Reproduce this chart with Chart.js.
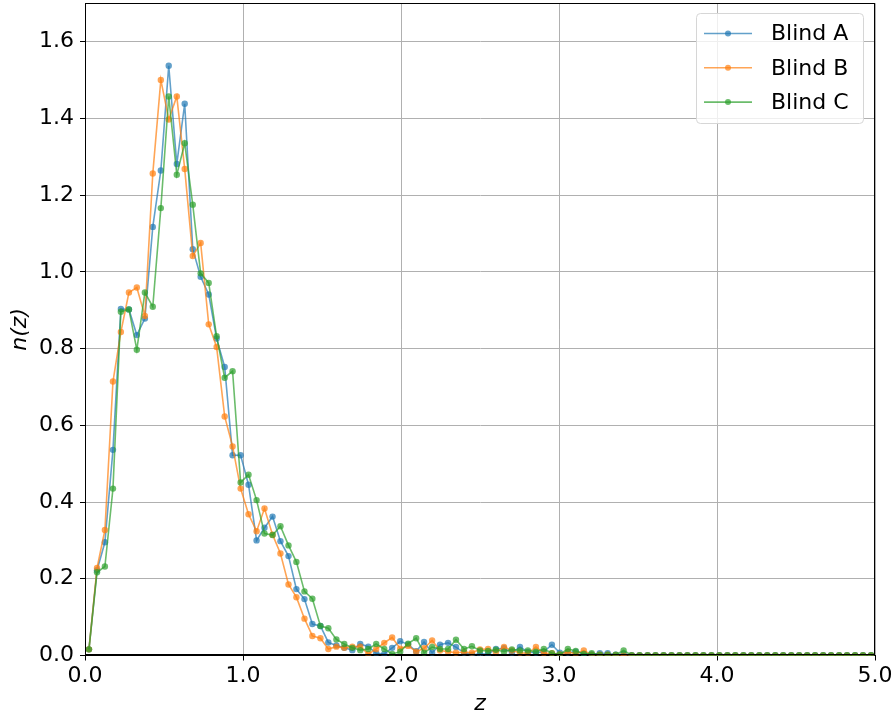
<!DOCTYPE html>
<html>
<head>
<meta charset="utf-8">
<script src="https://cdn.jsdelivr.net/npm/chart.js@4/dist/chart.umd.min.js"></script>
<style>
  html, body { margin: 0; padding: 0; background: #ffffff; }
  #wrap { width: 896px; height: 717px; }
</style>
</head>
<body>
<div id="wrap"><canvas id="nz" width="896" height="717"></canvas></div>
<script>
// Redshift bin centres (99 bins between 0 and 5)
const zCenters = [
  0.025, 0.076, 0.126, 0.177, 0.227, 0.278, 0.328, 0.379, 0.429, 0.480,
  0.530, 0.581, 0.631, 0.682, 0.732, 0.783, 0.833, 0.884, 0.934, 0.985,
  1.035, 1.086, 1.136, 1.187, 1.237, 1.288, 1.338, 1.389, 1.439, 1.490,
  1.540, 1.591, 1.641, 1.692, 1.742, 1.793, 1.843, 1.894, 1.944, 1.995,
  2.045, 2.096, 2.146, 2.197, 2.247, 2.298, 2.348, 2.399, 2.449, 2.500,
  2.551, 2.601, 2.652, 2.702, 2.753, 2.803, 2.854, 2.904, 2.955, 3.005,
  3.056, 3.106, 3.157, 3.207, 3.258, 3.308, 3.359, 3.409, 3.460, 3.510,
  3.561, 3.611, 3.662, 3.712, 3.763, 3.813, 3.864, 3.914, 3.965, 4.015,
  4.066, 4.116, 4.167, 4.217, 4.268, 4.318, 4.369, 4.419, 4.470, 4.520,
  4.571, 4.621, 4.672, 4.722, 4.773, 4.823, 4.874, 4.924, 4.975
];

const blindA = [
  0.016, 0.222, 0.295, 0.536, 0.903, 0.902, 0.835, 0.878, 1.117, 1.264,
  1.537, 1.281, 1.438, 1.059, 0.987, 0.941, 0.826, 0.752, 0.522, 0.522,
  0.445, 0.300, 0.333, 0.362, 0.298, 0.259, 0.173, 0.147, 0.082, 0.077,
  0.034, 0.026, 0.020, 0.014, 0.030, 0.023, 0.006, 0.004, 0.020, 0.037,
  0.029, 0.011, 0.035, 0.007, 0.028, 0.033, 0.022, 0.007, 0.002, 0.004,
  0.004, 0.017, 0.019, 0.007, 0.022, 0.009, 0.007, 0.010, 0.028, 0.007,
  0.007, 0.010, 0.005, 0.003, 0.006, 0.006, 0.002, 0.004, 0.001, 0.001,
  0.001, 0.001, 0.001, 0.001, 0.001, 0.001, 0.001, 0.001, 0.001, 0.001,
  0.001, 0.001, 0.001, 0.001, 0.001, 0.001, 0.001, 0.001, 0.001, 0.001,
  0.001, 0.001, 0.001, 0.001, 0.001, 0.001, 0.001, 0.001, 0.001
];

const blindB = [
  0.016, 0.228, 0.327, 0.714, 0.843, 0.946, 0.959, 0.885, 1.256, 1.500,
  1.397, 1.457, 1.268, 1.041, 1.075, 0.863, 0.804, 0.623, 0.545, 0.435,
  0.368, 0.324, 0.383, 0.315, 0.266, 0.185, 0.152, 0.096, 0.051, 0.045,
  0.017, 0.023, 0.020, 0.023, 0.023, 0.004, 0.017, 0.033, 0.047, 0.018,
  0.025, 0.010, 0.019, 0.039, 0.013, 0.010, 0.007, 0.009, 0.007, 0.016,
  0.017, 0.009, 0.022, 0.013, 0.007, 0.006, 0.022, 0.006, 0.006, 0.003,
  0.009, 0.005, 0.013, 0.002, 0.002, 0.002, 0.001, 0.000, 0.000, 0.000,
  0.000, 0.000, 0.000, 0.000, 0.000, 0.000, 0.000, 0.000, 0.000, 0.000,
  0.000, 0.000, 0.000, 0.000, 0.000, 0.000, 0.000, 0.000, 0.000, 0.000,
  0.000, 0.000, 0.000, 0.000, 0.000, 0.000, 0.000, 0.000, 0.000
];

const blindC = [
  0.016, 0.217, 0.232, 0.435, 0.896, 0.902, 0.797, 0.946, 0.909, 1.166,
  1.457, 1.253, 1.335, 1.175, 0.996, 0.971, 0.832, 0.724, 0.741, 0.451,
  0.471, 0.405, 0.318, 0.314, 0.337, 0.287, 0.244, 0.167, 0.148, 0.077,
  0.071, 0.042, 0.030, 0.020, 0.014, 0.017, 0.030, 0.017, 0.004, 0.010,
  0.031, 0.045, 0.007, 0.022, 0.017, 0.017, 0.041, 0.017, 0.024, 0.013,
  0.012, 0.015, 0.010, 0.016, 0.013, 0.013, 0.010, 0.017, 0.006, 0.003,
  0.017, 0.012, 0.004, 0.006, 0.002, 0.002, 0.002, 0.013, 0.001, 0.001,
  0.001, 0.001, 0.001, 0.001, 0.001, 0.001, 0.001, 0.001, 0.001, 0.001,
  0.001, 0.001, 0.001, 0.001, 0.001, 0.001, 0.001, 0.001, 0.001, 0.001,
  0.001, 0.001, 0.001, 0.001, 0.001, 0.001, 0.001, 0.001, 0.001
];

const seriesLabels = ['Blind A', 'Blind B', 'Blind C'];
const seriesColors = ['rgba(31,119,180,0.7)', 'rgba(255,127,14,0.7)', 'rgba(44,160,44,0.7)'];

const FONT = "'DejaVu Sans', 'Liberation Sans', sans-serif";

function toPoints(values) {
  return zCenters.map((z, i) => ({ x: z, y: values[i] }));
}

const seriesValues = [blindA, blindB, blindC];
const datasets = seriesValues.map((vals, i) => ({
  label: seriesLabels[i],
  data: toPoints(vals),
  borderColor: seriesColors[i],
  backgroundColor: seriesColors[i],
  borderWidth: 1.6,
  pointRadius: 3.2,
  pointBorderWidth: 0,
  pointHoverRadius: 3.2,
  tension: 0,
  // later series are painted over earlier ones
  order: seriesValues.length - i
}));

// Box around the plotting area, drawn over the curves
const frame = {
  id: 'frame',
  afterDatasetsDraw(chart) {
    const { ctx, chartArea: a } = chart;
    ctx.save();
    ctx.strokeStyle = '#000000';
    ctx.lineWidth = 1;
    ctx.strokeRect(Math.round(a.left) + 0.5, Math.round(a.top) + 0.5,
                   Math.round(a.right - a.left) - 1, Math.round(a.bottom - a.top) - 1);
    ctx.restore();
  }
};

// Legend panel in the upper right corner of the plot
const insetLegend = {
  id: 'insetLegend',
  afterDraw(chart) {
    const { ctx } = chart;
    const bx = 696.5, by = 13.5, bw = 167, bh = 110, r = 4;
    ctx.save();
    ctx.beginPath();
    ctx.roundRect(bx, by, bw, bh, r);
    ctx.fillStyle = 'rgba(255,255,255,0.8)';
    ctx.fill();
    ctx.strokeStyle = '#d6d6d6';
    ctx.lineWidth = 1;
    ctx.stroke();
    chart.data.datasets.forEach((ds, i) => {
      const y = 33.5 + i * 34.3;
      ctx.strokeStyle = ds.borderColor;
      ctx.lineWidth = 1.6;
      ctx.beginPath();
      ctx.moveTo(704, y);
      ctx.lineTo(752, y);
      ctx.stroke();
      ctx.fillStyle = ds.backgroundColor;
      ctx.beginPath();
      ctx.arc(728, y, 3, 0, Math.PI * 2);
      ctx.fill();
      ctx.fillStyle = '#000000';
      ctx.font = '22px ' + FONT;
      ctx.textBaseline = 'middle';
      ctx.textAlign = 'left';
      ctx.fillText(ds.label, 771, y + 1);
    });
    ctx.restore();
  }
};

new Chart(document.getElementById('nz'), {
  type: 'line',
  data: { datasets },
  plugins: [frame, insetLegend],
  options: {
    responsive: false,
    animation: false,
    events: [],
    layout: { padding: { top: 2, right: 21, left: 0, bottom: 0 } },
    plugins: {
      legend: { display: false },
      tooltip: { enabled: false }
    },
    scales: {
      x: {
        type: 'linear',
        min: 0,
        max: 5,
        afterFit(scale) { scale.height = 61.5; },
        ticks: {
          stepSize: 1,
          color: '#000000',
          font: { family: FONT, size: 22 },
          padding: 3,
          maxRotation: 0,
          callback: (v) => Number(v).toFixed(1)
        },
        grid: { color: '#b0b0b0', lineWidth: 1, tickColor: '#000000', tickLength: 5 },
        border: { color: '#000000', width: 1 },
        title: {
          display: true,
          text: 'z',
          color: '#000000',
          font: { family: FONT, size: 22, style: 'italic' },
          padding: { top: 0, bottom: 0 }
        }
      },
      y: {
        min: 0,
        max: 1.7,
        afterFit(scale) {
          scale.width = 85;
          scale.paddingTop = 0;
          scale.paddingBottom = 0;
        },
        ticks: {
          stepSize: 0.2,
          includeBounds: false,
          color: '#000000',
          font: { family: FONT, size: 22 },
          padding: 6,
          callback: (v) => Number(v).toFixed(1)
        },
        grid: { color: '#b0b0b0', lineWidth: 1, tickColor: '#000000', tickLength: 5 },
        border: { color: '#000000', width: 1 },
        title: {
          display: true,
          text: 'n(z)',
          color: '#000000',
          font: { family: FONT, size: 22, style: 'italic' },
          padding: { top: 7, bottom: 4 }
        }
      }
    }
  }
});
</script>
</body>
</html>
